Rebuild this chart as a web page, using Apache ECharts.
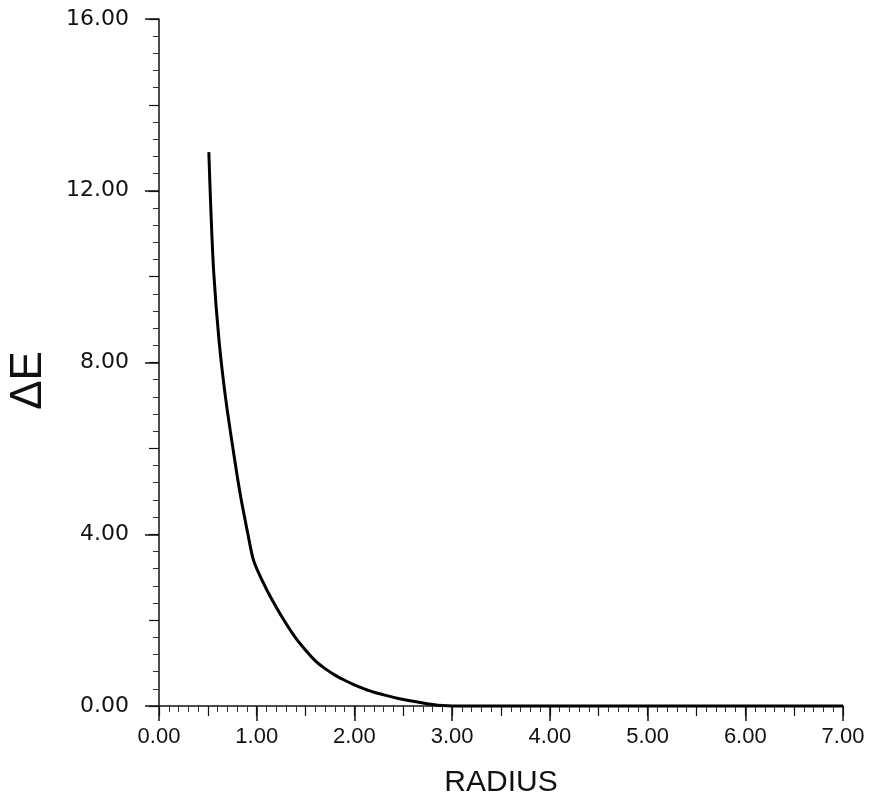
<!DOCTYPE html>
<html>
<head>
<meta charset="utf-8">
<script src="https://cdn.jsdelivr.net/npm/echarts@6/dist/echarts.min.js"></script>
<style>
  html, body { margin: 0; padding: 0; background: #fff; }
  #main { width: 875px; height: 792px; }
</style>
</head>
<body>
<div id="main"></div>
<script>
// values
var radius = [0.51, 0.53, 0.56, 0.615, 0.68, 0.76, 0.83, 0.91, 0.96, 1.00, 1.10, 1.20, 1.30, 1.40, 1.50, 1.60, 1.70, 1.80, 1.90, 2.00, 2.10, 2.20, 2.30, 2.40, 2.50, 2.60, 2.70, 2.80, 2.90, 3.00, 4.00, 5.00, 6.00, 7.00];
var deltaE = [12.9, 11.6, 10.1, 8.5, 7.2, 5.95, 4.95, 4.0, 3.45, 3.2, 2.72, 2.3, 1.92, 1.58, 1.3, 1.05, 0.87, 0.72, 0.6, 0.49, 0.4, 0.32, 0.26, 0.2, 0.15, 0.11, 0.07, 0.035, 0.01, 0, 0, 0, 0, 0];
var xName = "RADIUS";
var yName = "ΔE";

var points = radius.map(function (r, i) {
  return [r, deltaE[i]];
});

var myChart = echarts.init(document.getElementById("main"));

var fmt = function (v) {
  return v.toFixed(2);
};

var option = {
  animation: false,
  backgroundColor: "#ffffff",
  grid: {
    left: 159,
    right: 32,
    top: 19,
    bottom: 86,
    containLabel: false,
    outerBoundsMode: "none",
  },
  xAxis: [
    {
      type: "value",
      min: 0,
      max: 7,
      interval: 1,
      position: "bottom",
      name: xName,
      nameLocation: "middle",
      nameGap: 62,
      nameTextStyle: {
        fontFamily: "Liberation Sans",
        fontSize: 30,
        color: "#111",
      },
      splitLine: { show: false },
      axisLine: { lineStyle: { color: "#111", width: 1.5 } },
      axisTick: { length: 15, lineStyle: { color: "#111", width: 1.5 } },
      minorTick: {
        show: true,
        splitNumber: 10,
        length: 6,
        lineStyle: { color: "#333", width: 1 },
      },
      axisLabel: {
        margin: 20,
        fontFamily: "Liberation Sans",
        fontSize: 22,
        color: "#111",
        formatter: fmt,
      },
    },
    {
      // half-way ticks
      type: "value",
      min: 0,
      max: 7,
      interval: 0.5,
      position: "bottom",
      offset: 0,
      splitLine: { show: false },
      axisLine: { show: false },
      axisLabel: { show: false },
      axisTick: { length: 10, lineStyle: { color: "#111", width: 1.2 } },
    },
  ],
  yAxis: [
    {
      type: "value",
      min: 0,
      max: 16,
      interval: 4,
      position: "left",
      name: yName,
      nameLocation: "middle",
      nameGap: 108,
      nameTextStyle: {
        fontFamily: "Liberation Sans",
        fontSize: 44,
        color: "#111",
        padding: [0, 36, 0, 0],
      },
      splitLine: { show: false },
      axisLine: { lineStyle: { color: "#111", width: 1.5 } },
      axisTick: { length: 14, lineStyle: { color: "#111", width: 1.5 } },
      minorTick: {
        show: true,
        splitNumber: 10,
        length: 6,
        lineStyle: { color: "#333", width: 1 },
      },
      axisLabel: {
        margin: 30,
        fontFamily: "DejaVu Sans",
        fontSize: 22,
        color: "#111",
        formatter: fmt,
      },
    },
    {
      type: "value",
      min: 0,
      max: 16,
      interval: 2,
      position: "left",
      offset: 0,
      splitLine: { show: false },
      axisLine: { show: false },
      axisLabel: { show: false },
      axisTick: { length: 10, lineStyle: { color: "#111", width: 1.2 } },
    },
  ],
  series: [
    {
      type: "line",
      data: points,
      showSymbol: false,
      smooth: 0.3,
      clip: false,
      lineStyle: { color: "#000", width: 3 },
    },
  ],
};

myChart.setOption(option);
window.addEventListener("resize", function () {
  myChart.resize();
});
</script>
</body>
</html>
